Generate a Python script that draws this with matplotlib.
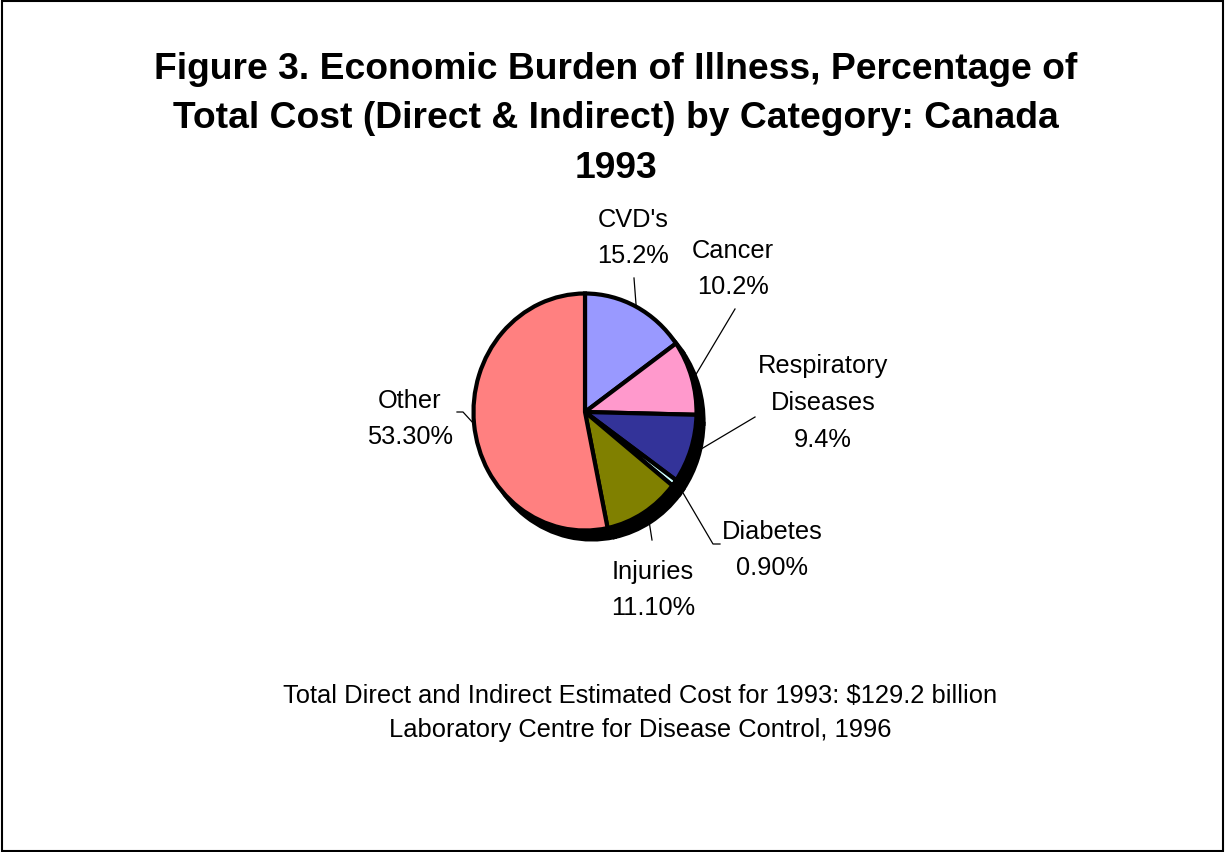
import numpy as np
import matplotlib
matplotlib.use("Agg")
import matplotlib.pyplot as plt
from matplotlib.lines import Line2D
from matplotlib.patches import Rectangle

plt.rcParams['font.family'] = ['Liberation Sans', 'DejaVu Sans']

''' DATA '''

categories = ["CVD's", "Cancer", "Respiratory\nDiseases", "Diabetes", "Injuries", "Other"]
shares = [15.2, 10.2, 9.4, 0.9, 11.1, 53.3]
share_labels = ["15.2%", "10.2%", "9.4%", "0.90%", "11.10%", "53.30%"]
colours = ["#9999FF", "#FF99CC", "#333399", "#CCFFFF", "#808000", "#FF8080"]

title = "Figure 3. Economic Burden of Illness, Percentage of\nTotal Cost (Direct & Indirect) by Category: Canada\n1993"
footnote = "Total Direct and Indirect Estimated Cost for 1993: $129.2 billion\nLaboratory Centre for Disease Control, 1996"

''' LAYOUT (pixels from top-left) '''

W, H = 1225, 853
# label centre position for each slice
label_pos = [(633, 238), (733, 269), (823, 403), (772, 550), (653, 590), (410, 419)]
# leader line points beyond the wedge edge (bends / end near label)
leader_ends = [
    [(634, 279)],
    [(735, 310)],
    [(755, 418)],
    [(713, 545), (720, 545)],
    [(652, 541)],
    [(463, 413), (457, 413)],
]
# radius (in pie units) where each leader starts
leader_r = [1.0, 1.03, 1.06, 1.06, 1.1, 1.0]


def fig_xy(px, py):
    return px / W, 1 - py / H


fig = plt.figure(figsize=(W / 100, H / 100), dpi=100)

# pie axes sized to the (slightly tall) ellipse of the original
left, top, right, bottom = 473.5, 294.5, 696.5, 531.5
ax = fig.add_axes([left / W, 1 - bottom / H, (right - left) / W, (bottom - top) / H])

# shadow
ax.pie(shares, colors=['black'] * len(shares), startangle=90, counterclock=False,
       center=(7 / 111.5, -9 / 118.5), wedgeprops=dict(linewidth=3, edgecolor='black'))
wedges, _ = ax.pie(shares, colors=colours, startangle=90, counterclock=False,
                   wedgeprops=dict(linewidth=3, edgecolor='black'))
ax.set_aspect('auto')
ax.set_xlim(-1, 1)
ax.set_ylim(-1, 1)
ax.axis('off')

fig.canvas.draw()

# labels and leader lines
for w, cat, lab, pos, ends, r in zip(wedges, categories, share_labels, label_pos, leader_ends, leader_r):
    mid = np.deg2rad((w.theta1 + w.theta2) / 2)
    sx, sy = ax.transData.transform((r * np.cos(mid), r * np.sin(mid)))
    xs = [sx / W] + [fig_xy(*p)[0] for p in ends]
    ys = [sy / H] + [fig_xy(*p)[1] for p in ends]
    fig.add_artist(Line2D(xs, ys, color='black', linewidth=0.9, transform=fig.transFigure))
    tx, ty = fig_xy(*pos)
    fig.text(tx, ty, cat + "\n" + lab, ha='center', va='center', fontsize=18.3, linespacing=1.66)

# title
tx, ty = fig_xy(616, 119)
fig.text(tx, ty, title, ha='center', va='center', fontsize=26.8, fontweight='bold', linespacing=1.54)

# footnote
tx, ty = fig_xy(640, 713)
fig.text(tx, ty, footnote, ha='center', va='center', fontsize=18.4, linespacing=1.55)

# border round the chart area
fig.add_artist(Rectangle((1.5 / W, 1.5 / H), 1 - 3.5 / W, 1 - 3.5 / H, transform=fig.transFigure,
                         fill=False, edgecolor='black', linewidth=1.5))

plt.savefig('out.png', dpi=100)
